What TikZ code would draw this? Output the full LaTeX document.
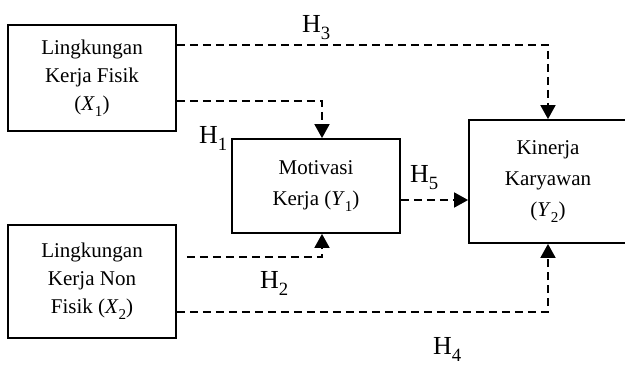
\documentclass[tikz,border=0pt]{standalone}
\usepackage{fontspec}
\setmainfont{Liberation Serif}
\usetikzlibrary{arrows.meta,calc}
% lowered index, as in (X_1) or H_3
\newcommand{\lowidx}[1]{\raisebox{-0.3em}{\fontsize{0.72em}{0.72em}\selectfont #1}}
\begin{document}
\begin{tikzpicture}[x=1pt,y=-1pt,
  box/.style={draw, line width=1.8pt, inner sep=0pt, align=center},
  xtext/.style={font=\fontsize{21}{28}\selectfont},
  ytext/.style={font=\fontsize{21}{31}\selectfont},
  link/.style={dash pattern=on 8pt off 5pt, line width=1.8pt,
    -{Triangle[width=15pt,length=14pt]}},
  hyp/.style={inner sep=0pt, anchor=base west, font=\fontsize{26}{28}\selectfont}]
\useasboundingbox (0,0) rectangle (625,365);

% variables
\node[box, xtext, minimum width=168pt, minimum height=106pt] (x1) at (92,78)
  {Lingkungan\\Kerja Fisik\\(\textit{X}\lowidx{1})};
\node[box, xtext, minimum width=168pt, minimum height=113pt] (x2) at (92,281.5)
  {Lingkungan\\Kerja Non\\Fisik (\textit{X}\lowidx{2})};
\node[box, ytext, minimum width=168pt, minimum height=94pt] (y1) at (316,186)
  {Motivasi\\Kerja (\textit{Y}\lowidx{1})};
\node[box, ytext, minimum width=158pt, minimum height=123pt] (y2) at (548,181.5)
  {Kinerja\\Karyawan\\(\textit{Y}\lowidx{2})};

% arrow end points on Motivasi Kerja
\coordinate (y1top) at ($(y1.north)+(6,0)$);
\coordinate (y1bot) at ($(y1.south)+(6,0)$);
\coordinate (h2start) at ($(x2.east |- 0,257)+(10,0)$);

% hypothesised paths
\draw[link] (x1.east |- 0,45) -| (y2.north);
\draw[link] (x1.east |- 0,101) -| (y1top);
\draw[link] (h2start) -| (y1bot);
\draw[link] (x2.east |- 0,312) -| (y2.south);
\draw[link] (y1.east |- 0,200) -- (y2.west |- 0,200);

% hypothesis labels
\node[hyp] (h3) at (302,32) {H\lowidx{3}};
\node[hyp] (h1) at (199,143) {H\lowidx{1}};
\node[hyp] (h5) at (410,182) {H\lowidx{5}};
\node[hyp] (h2) at (260,288) {H\lowidx{2}};
\node[hyp] (h4) at (433,354) {H\lowidx{4}};
\end{tikzpicture}
\end{document}
